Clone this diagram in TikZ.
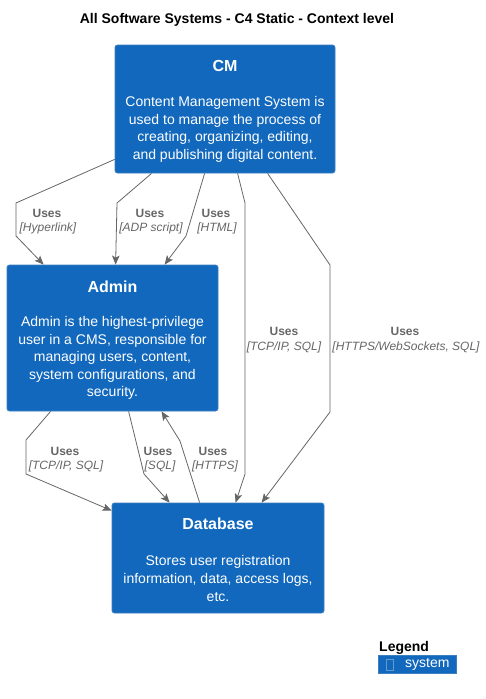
\documentclass[tikz,border=0pt]{standalone}
\usepackage{fontspec}
\setmainfont{Liberation Sans}
\usetikzlibrary{arrows.meta,calc}
\definecolor{c4blue}{HTML}{1168BD}
\definecolor{c4border}{HTML}{3C7FC0}
\definecolor{relgray}{HTML}{666666}
\tikzset{
  sysbox/.style={draw=c4border, fill=c4blue, rounded corners=2.5pt, line width=0.8pt, inner sep=0pt},
  systitle/.style={text=white, font=\fontsize{16}{19}\selectfont\bfseries, inner sep=0pt},
  sysdesc/.style={text=white, font=\fontsize{14}{17.6}\selectfont, align=center, inner sep=0pt},
  rel/.style={draw=relgray, line width=0.8pt, -{Stealth[length=9pt,width=7.5pt,inset=2pt]}},
  reluses/.style={text=relgray, font=\fontsize{12}{14}\selectfont\bfseries, inner sep=0pt},
  reltech/.style={text=relgray, font=\fontsize{12}{14}\selectfont\itshape, inner sep=0pt},
}
\begin{document}
\begin{tikzpicture}[x=1pt,y=-1pt]
\useasboundingbox (0,0) rectangle (486,699);
\fill[white] (0,0) rectangle (486,699);

\node[font=\fontsize{14}{16}\selectfont\bfseries, inner sep=0pt] (title) at (237,20) {All Software Systems - C4 Static - Context level};

% boxes
\node[sysbox, minimum width=220pt, minimum height=128pt] (cm) at (225,109) {};
\node[systitle] (cmt) at (225,66) {CM};
\node[sysdesc] (cmd) at (225,129.5) {Content Management System is\\used to manage the process of\\creating, organizing, editing,\\and publishing digital content.};

\node[sysbox, minimum width=211pt, minimum height=146pt] (admin) at (112.5,338) {};
\node[systitle] (admint) at (112.5,287) {Admin};
\node[sysdesc] (admind) at (112.5,358) {Admin is the highest-privilege\\user in a CMS, responsible for\\managing users, content,\\system configurations, and\\security.};

\node[sysbox, minimum width=212pt, minimum height=110pt] (db) at (218,558) {};
\node[systitle] (dbt) at (218,524) {Database};
\node[sysdesc] (dbd) at (218,578.5) {Stores user registration\\information, data, access logs,\\etc.};

% connectors
\draw[rel] ([yshift=14pt]cm.south west) -- (16,203) -- (16,236) -- ([xshift=37pt]admin.north west);
\node[reluses] (l1a) at (47,213) {Uses};
\node[reltech] (l1b) at (48,228) {[Hyperlink]};

\draw[rel] ([xshift=37pt]cm.south west) -- (117,203) -- ([xshift=109pt]admin.north west);
\node[reluses] (l2a) at (150,213) {Uses};
\node[reltech] (l2b) at (151,228) {[ADP script]};

\draw[rel] ([xshift=90pt]cm.south west) -- (186,236) -- ([xshift=158pt]admin.north west);
\node[reluses] (l3a) at (216,213) {Uses};
\node[reltech] (l3b) at (217,228) {[HTML]};

\draw[rel] ([xshift=123pt]cm.south west) -- (245,203) -- (245,474) -- ([xshift=124pt]db.north west);
\node[reluses] (l4a) at (284,331) {Uses};
\node[reltech] (l4b) at (284,347) {[TCP/IP, SQL]};

\draw[rel] ([xshift=153pt]cm.south west) -- (330,265) -- (330,412) -- ([xshift=150pt]db.north west);
\node[reluses] (l5a) at (405,331) {Uses};
\node[reltech] (l5b) at (406,347) {[HTTPS/WebSockets, SQL]};

\draw[rel] ([xshift=44pt]admin.south west) -- (26,440) -- (26,474) -- ([yshift=-8pt]db.north west);
\node[reluses] (l6a) at (65,451) {Uses};
\node[reltech] (l6b) at (66,466) {[TCP/IP, SQL]};

\draw[rel] ([xshift=122pt]admin.south west) -- (144,474) -- ([xshift=58pt]db.north west);
\node[reluses] (l7a) at (158,451) {Uses};
\node[reltech] (l7b) at (160,466) {[SQL]};

\draw[rel] ([xshift=88pt]db.north west) -- (180,441) -- ([xshift=155pt]admin.south west);
\node[reluses] (l8a) at (213,451) {Uses};
\node[reltech] (l8b) at (215,466) {[HTTPS]};

% legend
\node[font=\fontsize{14}{16}\selectfont\bfseries, anchor=west, inner sep=0pt] (legt) at (379,648) {Legend};
\node[fill=c4blue, draw=c4border, line width=0.6pt, minimum width=78pt, minimum height=18pt, inner sep=0pt] (legbox) at (417,664) {};
\draw[draw=c4border!80!white, line width=0.6pt] (386,659) rectangle (393,670);
\node[text=white, font=\fontsize{14}{16}\selectfont, anchor=west, inner sep=0pt] (legs) at (405,664) {system};
\end{tikzpicture}
\end{document}
